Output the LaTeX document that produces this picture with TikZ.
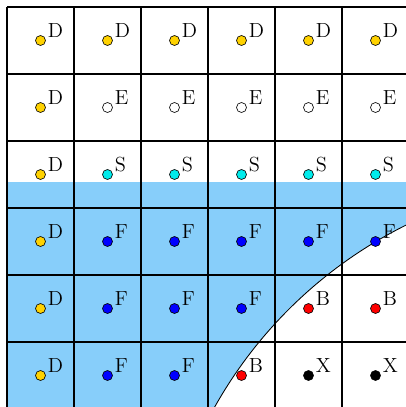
\documentclass[tikz,border=0pt]{standalone}
\definecolor{fillblue}{RGB}{135,206,250}
\definecolor{dotgold}{RGB}{255,210,0}
\definecolor{dotcyan}{RGB}{0,235,235}
\begin{document}
\begin{tikzpicture}[x=0.025cm,y=-0.025cm,
  gridline/.style={line width=0.8pt},
  front/.style={line width=0.6pt},
  dot/.style={circle,draw=black,line width=0.45pt,inner sep=0pt,minimum size=0.25cm},
  lab/.style={anchor=base west,inner sep=0pt,font=\fontsize{14.5}{17}\selectfont}]
\useasboundingbox (0,0) rectangle (406,407);
\begin{scope}
\clip (0,0) rectangle (406,407);
% known region
\fill[fillblue] (7,181.5) rectangle (420,420);
\fill[white] (604,625) circle[radius=11.15cm];
\draw[front] (604,625) circle[radius=11.15cm];
% grid
\foreach \i in {0,...,6} {
  \draw[gridline] ({7+67*\i},7) -- ({7+67*\i},420);
  \draw[gridline] (7,{7+67*\i}) -- (420,{7+67*\i});
}
% points
\foreach \r/\c/\t/\col in {
  1/1/D/dotgold,1/2/D/dotgold,1/3/D/dotgold,1/4/D/dotgold,1/5/D/dotgold,1/6/D/dotgold,
  2/1/D/dotgold,2/2/E/white,2/3/E/white,2/4/E/white,2/5/E/white,2/6/E/white,
  3/1/D/dotgold,3/2/S/dotcyan,3/3/S/dotcyan,3/4/S/dotcyan,3/5/S/dotcyan,3/6/S/dotcyan,
  4/1/D/dotgold,4/2/F/blue,4/3/F/blue,4/4/F/blue,4/5/F/blue,4/6/F/blue,
  5/1/D/dotgold,5/2/F/blue,5/3/F/blue,5/4/F/blue,5/5/B/red,5/6/B/red,
  6/1/D/dotgold,6/2/F/blue,6/3/F/blue,6/4/B/red,6/5/X/black,6/6/X/black} {
  \node[dot,fill=\col] (p\r\c) at ({40.5+67*(\c-1)},{40.5+67*(\r-1)}) {};
  \node[lab] (t\r\c) at ([shift={(7,-3)}]p\r\c.center) {\t};
}
\end{scope}
\end{tikzpicture}
\end{document}
